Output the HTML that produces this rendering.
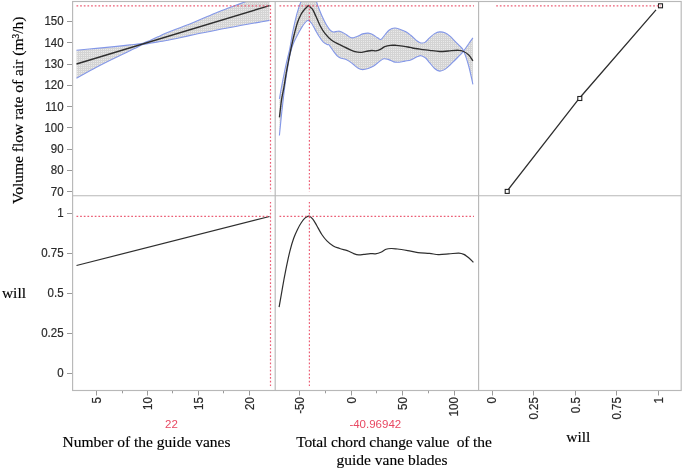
<!DOCTYPE html>
<html lang="en"><head><meta charset="utf-8"><title>Prediction profiler</title>
<style>html,body{margin:0;padding:0;background:#fff}body{width:685px;height:470px;overflow:hidden}svg{display:block}.t{font-family:"Liberation Sans",sans-serif;font-size:12.1px;fill:#2a2a2a;stroke:#2a2a2a;stroke-width:.2px}.s{font-family:"Liberation Serif",serif;font-size:15.5px;fill:#000;stroke:#000;stroke-width:.15px}.r{font-family:"Liberation Sans",sans-serif;font-size:11.5px;fill:#e84862}</style></head><body>
<svg width="685" height="470" viewBox="0 0 685 470">
<defs>
<pattern id="hatch" width="2" height="2" patternUnits="userSpaceOnUse"><rect width="2" height="2" fill="#d4d4d4"/><rect x="1" y="1" width="1" height="1" fill="#eaeaea"/></pattern>
<clipPath id="cp1"><rect x="72.6" y="1.5" width="202.6" height="194.2"/></clipPath>
<clipPath id="cp2"><rect x="275.2" y="1.5" width="203.4" height="194.2"/></clipPath>
</defs>
<rect width="685" height="470" fill="#fff"/>
<g clip-path="url(#cp1)">
<path d="M76.5 50.2C79.8 49.9 89.7 49.0 96.4 48.4C103.1 47.7 111.3 47.0 116.9 46.4C122.5 45.8 126.6 45.3 130.0 44.9C133.4 44.5 135.1 44.4 137.3 44.1C139.5 43.8 140.9 43.9 143.0 43.3C145.1 42.7 147.5 41.4 150.0 40.4C152.5 39.3 155.5 38.0 158.0 36.8C160.5 35.7 161.3 35.1 165.0 33.6C168.7 32.1 174.9 29.7 180.0 27.7C185.1 25.7 190.7 23.5 195.7 21.4C200.7 19.4 204.9 17.5 210.0 15.4C215.1 13.3 220.0 11.4 226.0 9.1C232.0 6.7 240.3 3.7 246.0 1.4C251.7 -0.9 256.1 -3.0 260.0 -4.7C263.9 -6.5 267.9 -8.5 269.5 -9.2L269.5 20.4C267.9 20.7 263.9 21.4 260.0 22.1C256.1 22.8 251.7 23.5 246.0 24.5C240.3 25.5 232.0 27.1 226.0 28.3C220.0 29.4 215.1 30.5 210.0 31.5C204.9 32.5 200.7 33.2 195.7 34.2C190.7 35.3 185.1 36.6 180.0 37.7C174.9 38.8 168.7 40.1 165.0 40.8C161.3 41.5 160.5 41.5 158.0 41.9C155.5 42.3 152.5 42.8 150.0 43.3C147.5 43.7 145.1 43.8 143.0 44.5C140.9 45.1 139.5 46.2 137.3 47.2C135.1 48.2 133.4 49.1 130.0 50.7C126.6 52.3 122.5 54.1 116.9 56.9C111.3 59.6 103.1 63.6 96.4 67.2C89.7 70.7 79.8 76.4 76.5 78.2Z" fill="url(#hatch)"/>
<path d="M76.5 50.2C79.8 49.9 89.7 49.0 96.4 48.4C103.1 47.7 111.3 47.0 116.9 46.4C122.5 45.8 126.6 45.3 130.0 44.9C133.4 44.5 135.1 44.4 137.3 44.1C139.5 43.8 140.9 43.9 143.0 43.3C145.1 42.7 147.5 41.4 150.0 40.4C152.5 39.3 155.5 38.0 158.0 36.8C160.5 35.7 161.3 35.1 165.0 33.6C168.7 32.1 174.9 29.7 180.0 27.7C185.1 25.7 190.7 23.5 195.7 21.4C200.7 19.4 204.9 17.5 210.0 15.4C215.1 13.3 220.0 11.4 226.0 9.1C232.0 6.7 240.3 3.7 246.0 1.4C251.7 -0.9 256.1 -3.0 260.0 -4.7C263.9 -6.5 267.9 -8.5 269.5 -9.2" fill="none" stroke="#8397e8" stroke-width="1.1"/>
<path d="M76.5 78.2C79.8 76.4 89.7 70.7 96.4 67.2C103.1 63.6 111.3 59.6 116.9 56.9C122.5 54.1 126.6 52.3 130.0 50.7C133.4 49.1 135.1 48.2 137.3 47.2C139.5 46.2 140.9 45.1 143.0 44.5C145.1 43.8 147.5 43.7 150.0 43.3C152.5 42.8 155.5 42.3 158.0 41.9C160.5 41.5 161.3 41.5 165.0 40.8C168.7 40.1 174.9 38.8 180.0 37.7C185.1 36.6 190.7 35.3 195.7 34.2C200.7 33.2 204.9 32.5 210.0 31.5C215.1 30.5 220.0 29.4 226.0 28.3C232.0 27.1 240.3 25.5 246.0 24.5C251.7 23.5 256.1 22.8 260.0 22.1C263.9 21.4 267.9 20.7 269.5 20.4" fill="none" stroke="#8397e8" stroke-width="1.1"/>
<path d="M76.5 64L269.5 5.6" fill="none" stroke="#2e2e2e" stroke-width="1.35"/>
</g>
<g clip-path="url(#cp2)">
<path d="M279.4 98.8C279.8 96.7 280.6 91.5 281.7 86.0C282.8 80.5 284.7 70.6 285.8 65.5C286.9 60.4 287.5 58.4 288.2 55.5C288.9 52.6 289.2 51.6 289.9 48.0C290.6 44.4 291.5 38.5 292.4 33.7C293.3 28.9 294.5 23.6 295.5 19.4C296.5 15.1 297.6 11.3 298.6 8.2C299.6 5.0 300.5 2.7 301.6 0.5C302.7 -1.7 303.9 -3.8 305.0 -5.0C306.1 -6.2 307.3 -7.0 308.5 -7.0C309.7 -7.0 310.8 -6.2 312.0 -5.0C313.2 -3.8 314.9 -1.3 315.9 0.5C316.9 2.3 317.0 3.5 318.0 6.1C319.0 8.7 320.7 13.2 322.1 16.3C323.5 19.4 324.9 22.3 326.2 24.5C327.5 26.7 328.5 28.4 329.7 29.6C330.9 30.9 332.0 31.7 333.3 32.0C334.6 32.3 336.2 31.4 337.4 31.3C338.6 31.2 339.0 30.9 340.4 31.4C341.8 31.9 344.1 33.3 346.0 34.4C347.9 35.5 349.6 37.5 351.5 37.8C353.4 38.1 355.2 37.0 357.1 36.4C359.0 35.8 360.8 34.4 362.6 33.9C364.5 33.4 366.5 33.0 368.2 33.1C369.9 33.2 371.0 33.6 372.6 34.4C374.2 35.2 376.2 37.0 377.6 37.8C379.0 38.6 379.7 39.9 380.9 39.4C382.1 38.9 383.4 36.6 384.8 35.0C386.2 33.4 387.6 31.2 389.3 30.0C391.0 28.8 393.0 28.1 394.8 28.0C396.6 27.9 398.5 28.8 400.4 29.4C402.2 30.0 404.2 30.7 405.9 31.7C407.6 32.7 408.9 33.7 410.8 35.3C412.8 36.9 415.9 40.0 417.6 41.3C419.3 42.6 419.7 42.9 421.0 43.0C422.3 43.1 423.9 43.0 425.3 42.1C426.7 41.2 427.9 39.3 429.5 37.9C431.1 36.5 432.9 34.6 434.6 33.6C436.3 32.6 438.0 32.0 439.7 31.9C441.4 31.8 443.2 32.1 444.9 32.8C446.6 33.5 448.3 34.8 450.0 36.2C451.7 37.6 453.4 39.6 455.1 41.3C456.8 43.0 458.8 44.8 460.2 46.4C461.6 48.0 462.2 47.6 463.6 50.9C465.0 54.2 467.1 60.4 468.7 66.0C470.2 71.6 472.2 81.2 472.9 84.3L472.9 37.9C472.2 38.9 470.2 41.6 468.7 43.8C467.1 46.0 465.0 49.2 463.6 51.1C462.2 53.0 461.6 53.4 460.2 54.9C458.8 56.4 456.8 58.3 455.1 60.0C453.4 61.7 451.7 63.5 450.0 65.1C448.3 66.7 446.6 68.4 444.9 69.4C443.2 70.4 441.4 71.2 439.7 71.1C438.0 70.9 436.3 69.9 434.6 68.5C432.9 67.1 431.1 64.4 429.5 62.6C427.9 60.8 426.7 58.9 425.3 57.8C423.9 56.6 422.3 55.9 421.0 55.7C419.7 55.5 419.3 55.9 417.6 56.6C415.9 57.3 412.9 59.2 410.8 60.0C408.7 60.8 406.7 60.7 404.8 61.1C402.9 61.5 401.1 62.1 399.2 62.2C397.3 62.3 395.5 62.4 393.7 61.9C391.9 61.4 389.9 59.9 388.2 59.4C386.5 58.9 385.2 58.4 383.7 58.8C382.2 59.2 381.0 60.4 379.3 61.6C377.6 62.8 375.6 64.8 373.7 66.0C371.8 67.2 370.0 67.9 368.2 68.5C366.4 69.1 364.3 69.6 362.6 69.6C360.9 69.6 359.9 69.3 358.2 68.3C356.5 67.3 354.5 65.2 352.6 63.8C350.8 62.4 349.0 60.8 347.1 59.9C345.2 59.0 342.9 58.8 341.5 58.3C340.1 57.8 339.6 57.9 338.4 56.9C337.2 55.9 335.8 54.3 334.3 52.3C332.8 50.3 330.4 46.4 329.2 45.1C328.0 43.8 328.2 45.0 327.2 44.5C326.2 44.0 324.5 43.3 323.1 41.9C321.7 40.5 320.4 38.4 319.0 36.3C317.6 34.2 316.2 31.3 314.9 29.1C313.6 26.9 312.4 24.4 311.3 23.0C310.2 21.6 309.2 20.6 308.3 20.4C307.4 20.2 306.8 20.8 305.7 22.0C304.6 23.2 303.0 25.4 301.6 27.6C300.2 29.8 298.8 32.6 297.5 35.0C296.2 37.4 295.0 39.8 294.0 42.0C293.0 44.2 292.4 45.9 291.6 48.5C290.8 51.1 290.2 53.4 289.4 57.5C288.6 61.6 287.7 67.4 286.8 73.0C285.9 78.6 285.0 84.5 284.2 91.0C283.4 97.5 282.6 104.6 281.8 112.0C281.0 119.4 279.8 131.6 279.4 135.5Z" fill="url(#hatch)"/>
<path d="M279.4 98.8C279.8 96.7 280.6 91.5 281.7 86.0C282.8 80.5 284.7 70.6 285.8 65.5C286.9 60.4 287.5 58.4 288.2 55.5C288.9 52.6 289.2 51.6 289.9 48.0C290.6 44.4 291.5 38.5 292.4 33.7C293.3 28.9 294.5 23.6 295.5 19.4C296.5 15.1 297.6 11.3 298.6 8.2C299.6 5.0 300.5 2.7 301.6 0.5C302.7 -1.7 303.9 -3.8 305.0 -5.0C306.1 -6.2 307.3 -7.0 308.5 -7.0C309.7 -7.0 310.8 -6.2 312.0 -5.0C313.2 -3.8 314.9 -1.3 315.9 0.5C316.9 2.3 317.0 3.5 318.0 6.1C319.0 8.7 320.7 13.2 322.1 16.3C323.5 19.4 324.9 22.3 326.2 24.5C327.5 26.7 328.5 28.4 329.7 29.6C330.9 30.9 332.0 31.7 333.3 32.0C334.6 32.3 336.2 31.4 337.4 31.3C338.6 31.2 339.0 30.9 340.4 31.4C341.8 31.9 344.1 33.3 346.0 34.4C347.9 35.5 349.6 37.5 351.5 37.8C353.4 38.1 355.2 37.0 357.1 36.4C359.0 35.8 360.8 34.4 362.6 33.9C364.5 33.4 366.5 33.0 368.2 33.1C369.9 33.2 371.0 33.6 372.6 34.4C374.2 35.2 376.2 37.0 377.6 37.8C379.0 38.6 379.7 39.9 380.9 39.4C382.1 38.9 383.4 36.6 384.8 35.0C386.2 33.4 387.6 31.2 389.3 30.0C391.0 28.8 393.0 28.1 394.8 28.0C396.6 27.9 398.5 28.8 400.4 29.4C402.2 30.0 404.2 30.7 405.9 31.7C407.6 32.7 408.9 33.7 410.8 35.3C412.8 36.9 415.9 40.0 417.6 41.3C419.3 42.6 419.7 42.9 421.0 43.0C422.3 43.1 423.9 43.0 425.3 42.1C426.7 41.2 427.9 39.3 429.5 37.9C431.1 36.5 432.9 34.6 434.6 33.6C436.3 32.6 438.0 32.0 439.7 31.9C441.4 31.8 443.2 32.1 444.9 32.8C446.6 33.5 448.3 34.8 450.0 36.2C451.7 37.6 453.4 39.6 455.1 41.3C456.8 43.0 458.8 44.8 460.2 46.4C461.6 48.0 462.2 47.6 463.6 50.9C465.0 54.2 467.1 60.4 468.7 66.0C470.2 71.6 472.2 81.2 472.9 84.3" fill="none" stroke="#8397e8" stroke-width="1.1"/>
<path d="M279.4 135.5C279.8 131.6 281.0 119.4 281.8 112.0C282.6 104.6 283.4 97.5 284.2 91.0C285.0 84.5 285.9 78.6 286.8 73.0C287.7 67.4 288.6 61.6 289.4 57.5C290.2 53.4 290.8 51.1 291.6 48.5C292.4 45.9 293.0 44.2 294.0 42.0C295.0 39.8 296.2 37.4 297.5 35.0C298.8 32.6 300.2 29.8 301.6 27.6C303.0 25.4 304.6 23.2 305.7 22.0C306.8 20.8 307.4 20.2 308.3 20.4C309.2 20.6 310.2 21.6 311.3 23.0C312.4 24.4 313.6 26.9 314.9 29.1C316.2 31.3 317.6 34.2 319.0 36.3C320.4 38.4 321.7 40.5 323.1 41.9C324.5 43.3 326.2 44.0 327.2 44.5C328.2 45.0 328.0 43.8 329.2 45.1C330.4 46.4 332.8 50.3 334.3 52.3C335.8 54.3 337.2 55.9 338.4 56.9C339.6 57.9 340.1 57.8 341.5 58.3C342.9 58.8 345.2 59.0 347.1 59.9C349.0 60.8 350.8 62.4 352.6 63.8C354.5 65.2 356.5 67.3 358.2 68.3C359.9 69.3 360.9 69.6 362.6 69.6C364.3 69.6 366.4 69.1 368.2 68.5C370.0 67.9 371.8 67.2 373.7 66.0C375.6 64.8 377.6 62.8 379.3 61.6C381.0 60.4 382.2 59.2 383.7 58.8C385.2 58.4 386.5 58.9 388.2 59.4C389.9 59.9 391.9 61.4 393.7 61.9C395.5 62.4 397.3 62.3 399.2 62.2C401.1 62.1 402.9 61.5 404.8 61.1C406.7 60.7 408.7 60.8 410.8 60.0C412.9 59.2 415.9 57.3 417.6 56.6C419.3 55.9 419.7 55.5 421.0 55.7C422.3 55.9 423.9 56.6 425.3 57.8C426.7 58.9 427.9 60.8 429.5 62.6C431.1 64.4 432.9 67.1 434.6 68.5C436.3 69.9 438.0 70.9 439.7 71.1C441.4 71.2 443.2 70.4 444.9 69.4C446.6 68.4 448.3 66.7 450.0 65.1C451.7 63.5 453.4 61.7 455.1 60.0C456.8 58.3 458.8 56.4 460.2 54.9C461.6 53.4 462.2 53.0 463.6 51.1C465.0 49.2 467.1 46.0 468.7 43.8C470.2 41.6 472.2 38.9 472.9 37.9" fill="none" stroke="#8397e8" stroke-width="1.1"/>
<path d="M279.4 117.4C279.8 114.5 280.8 104.9 281.5 100.0C282.2 95.1 283.0 92.5 283.8 88.0C284.6 83.5 285.4 78.0 286.3 72.7C287.2 67.4 288.3 61.8 289.4 56.3C290.5 50.8 292.0 43.9 292.9 40.0C293.8 36.1 293.8 35.9 294.6 33.0C295.4 30.1 296.4 25.6 297.5 22.5C298.6 19.4 300.0 16.4 301.1 14.3C302.2 12.2 303.3 10.8 304.2 9.7C305.1 8.5 305.8 8.0 306.4 7.4C307.0 6.8 307.6 6.2 307.9 5.9C308.2 5.6 308.2 5.5 308.4 5.5C308.6 5.5 308.5 5.6 308.9 5.9C309.3 6.2 309.9 6.8 310.6 7.5C311.3 8.2 312.0 8.4 312.9 9.9C313.8 11.4 314.7 13.7 315.9 16.3C317.1 18.9 318.5 22.6 320.0 25.5C321.5 28.4 323.2 31.3 325.1 33.7C327.0 36.1 329.2 38.4 331.3 40.0C333.4 41.6 335.5 42.6 337.4 43.6C339.3 44.6 340.7 45.1 342.7 46.1C344.7 47.1 347.3 48.5 349.3 49.4C351.3 50.3 353.0 51.1 354.9 51.6C356.8 52.1 358.5 52.4 360.4 52.4C362.2 52.4 364.1 51.7 366.0 51.4C367.9 51.1 369.9 50.6 371.5 50.5C373.1 50.4 374.4 51.0 375.9 50.8C377.4 50.6 378.9 50.1 380.4 49.4C381.9 48.7 383.1 47.3 384.8 46.6C386.5 45.9 388.5 45.5 390.4 45.3C392.2 45.1 393.9 45.2 395.9 45.3C397.9 45.4 400.6 45.8 402.6 46.1C404.6 46.4 406.5 46.7 408.1 47.0C409.8 47.3 410.4 47.6 412.5 48.0C414.6 48.4 418.2 48.9 421.0 49.3C423.8 49.7 426.4 49.9 429.5 50.3C432.6 50.7 436.6 51.4 439.7 51.5C442.8 51.6 445.2 51.2 448.3 51.0C451.4 50.8 455.9 50.2 458.5 50.3C461.1 50.4 461.9 50.7 463.6 51.5C465.3 52.3 467.1 53.3 468.7 54.9C470.2 56.5 472.2 59.9 472.9 60.9" fill="none" stroke="#2e2e2e" stroke-width="1.35" stroke-linejoin="round"/>
</g>
<path d="M508 189.8L579.4 98.2L656 9.9" fill="none" stroke="#2e2e2e" stroke-width="1.3"/>
<rect x="505.2" y="189.4" width="4" height="4" fill="#fff" stroke="#222" stroke-width="1.1"/>
<rect x="577.8" y="96.5" width="4" height="4" fill="#fff" stroke="#222" stroke-width="1.1"/>
<rect x="658.5" y="3.8" width="4" height="4" fill="none" stroke="#222" stroke-width="1.1"/>
<path d="M76.5 265.5L269.5 216.5" fill="none" stroke="#2e2e2e" stroke-width="1.2"/>
<path d="M279.1 307.2C279.6 304.2 281.1 295.8 282.2 289.4C283.3 283.0 284.7 275.3 286.0 268.9C287.3 262.5 288.6 256.2 289.9 251.1C291.2 246.0 292.4 241.9 293.7 238.3C295.0 234.7 296.2 232.0 297.5 229.4C298.8 226.8 300.1 224.4 301.4 222.5C302.7 220.6 303.9 219.0 305.2 217.9C306.5 216.8 307.7 215.9 309.0 216.1C310.3 216.3 311.5 217.5 312.8 219.1C314.1 220.7 315.2 222.9 316.7 225.5C318.2 228.1 320.1 231.9 321.8 234.5C323.5 237.1 325.0 238.9 326.9 240.8C328.8 242.7 331.2 244.7 333.3 246.0C335.4 247.3 337.4 247.7 339.7 248.5C342.0 249.3 345.0 249.8 347.3 250.6C349.6 251.4 351.8 252.9 353.7 253.6C355.6 254.3 357.1 254.8 358.8 254.9C360.5 255.0 362.0 254.6 363.9 254.4C365.8 254.2 368.4 253.7 370.3 253.6C372.2 253.5 373.6 254.0 375.4 253.8C377.2 253.6 379.1 253.1 380.9 252.3C382.7 251.6 384.3 249.9 386.0 249.3C387.7 248.7 389.2 248.6 391.1 248.5C393.0 248.4 394.7 248.7 397.5 249.0C400.3 249.3 404.3 250.0 407.7 250.6C411.1 251.2 414.4 252.1 418.0 252.6C421.6 253.1 426.0 253.1 429.4 253.4C432.8 253.7 435.2 254.5 438.4 254.6C441.6 254.7 445.2 254.2 448.6 253.9C452.0 253.7 456.2 253.0 458.8 253.1C461.4 253.2 462.2 253.6 463.9 254.4C465.6 255.2 467.4 256.7 469.0 258.0C470.6 259.3 472.7 261.6 473.4 262.3" fill="none" stroke="#2e2e2e" stroke-width="1.2"/>
<path d="M76.5 5.8L270.5 5.8" stroke="#e84862" stroke-width="1.2" stroke-dasharray="1.7 1.95" stroke-opacity=".88" fill="none"/>
<path d="M279.5 5.8L474 5.8" stroke="#e84862" stroke-width="1.2" stroke-dasharray="1.7 1.95" stroke-opacity=".88" fill="none"/>
<path d="M496.2 5.8L661 5.8" stroke="#e84862" stroke-width="1.2" stroke-dasharray="1.7 1.95" stroke-opacity=".88" fill="none"/>
<path d="M76.5 216.3L270.5 216.3" stroke="#e84862" stroke-width="1.2" stroke-dasharray="1.7 1.95" stroke-opacity=".88" fill="none"/>
<path d="M279.5 216.3L474 216.3" stroke="#e84862" stroke-width="1.2" stroke-dasharray="1.7 1.95" stroke-opacity=".88" fill="none"/>
<path d="M270.5 5L270.5 191.5" stroke="#e84862" stroke-width="1.2" stroke-dasharray="1.7 1.95" stroke-opacity=".88" fill="none"/>
<path d="M270.5 201.9L270.5 386.3" stroke="#e84862" stroke-width="1.2" stroke-dasharray="1.7 1.95" stroke-opacity=".88" fill="none"/>
<path d="M309.4 5L309.4 191.5" stroke="#e84862" stroke-width="1.2" stroke-dasharray="1.7 1.95" stroke-opacity=".88" fill="none"/>
<path d="M309.4 201.9L309.4 386.3" stroke="#e84862" stroke-width="1.2" stroke-dasharray="1.7 1.95" stroke-opacity=".88" fill="none"/>
<g stroke="#b8b8b8" stroke-width="1.15" fill="none">
<rect x="72.6" y="1.5" width="608.6" height="389"/>
<path d="M275.2 1.5V390.5 M478.6 1.5V390.5 M72.6 195.7H681.2"/>
</g>
<g stroke="#9a9a9a" stroke-width="1" fill="none">
<path d="M67 191.5H72M67 170.5H72M67 149.5H72M67 127.5H72M67 106.5H72M67 85.5H72M67 64.5H72M67 42.5H72M67 21.5H72M67 373.5H72M67 333.5H72M67 293.5H72M67 253.5H72M67 213.5H72M96.5 391V395.5M147.5 391V395.5M198.5 391V395.5M249.5 391V395.5M122.5 391V393.3M172.5 391V393.3M223.5 391V393.3M299.5 391V395.5M351.5 391V395.5M402.5 391V395.5M454.5 391V395.5M325.5 391V393.3M376.5 391V393.3M428.5 391V393.3M492.5 391V395.5M533.5 391V395.5M575.5 391V395.5M616.5 391V395.5M658.5 391V395.5"/>
</g>
<g class="t" text-anchor="end">
<text transform="translate(63.6 195.7) scale(.95 1)">70</text>
<text transform="translate(63.6 174.4) scale(.95 1)">80</text>
<text transform="translate(63.6 153.1) scale(.95 1)">90</text>
<text transform="translate(63.6 131.8) scale(.95 1)">100</text>
<text transform="translate(63.6 110.5) scale(.95 1)">110</text>
<text transform="translate(63.6 89.2) scale(.95 1)">120</text>
<text transform="translate(63.6 67.9) scale(.95 1)">130</text>
<text transform="translate(63.6 46.6) scale(.95 1)">140</text>
<text transform="translate(63.6 25.3) scale(.95 1)">150</text>
<text transform="translate(63.6 377.2) scale(.95 1)">0</text>
<text transform="translate(63.6 337.2) scale(.95 1)">0.25</text>
<text transform="translate(63.6 297.2) scale(.95 1)">0.5</text>
<text transform="translate(63.6 257.2) scale(.95 1)">0.75</text>
<text transform="translate(63.6 217.2) scale(.95 1)">1</text>
<text transform="translate(100.8 397.2) rotate(-90) scale(.95 1)">5</text>
<text transform="translate(151.7 397.2) rotate(-90) scale(.95 1)">10</text>
<text transform="translate(202.6 397.2) rotate(-90) scale(.95 1)">15</text>
<text transform="translate(253.5 397.2) rotate(-90) scale(.95 1)">20</text>
<text transform="translate(304.1 397.2) rotate(-90) scale(.95 1)">-50</text>
<text transform="translate(355.5 397.2) rotate(-90) scale(.95 1)">0</text>
<text transform="translate(406.9 397.2) rotate(-90) scale(.95 1)">50</text>
<text transform="translate(458.3 397.2) rotate(-90) scale(.95 1)">100</text>
<text transform="translate(496.2 397.2) rotate(-90) scale(.95 1)">0</text>
<text transform="translate(537.9 397.2) rotate(-90) scale(.95 1)">0.25</text>
<text transform="translate(579.5 397.2) rotate(-90) scale(.95 1)">0.5</text>
<text transform="translate(621.2 397.2) rotate(-90) scale(.95 1)">0.75</text>
<text transform="translate(662.8 397.2) rotate(-90) scale(.95 1)">1</text>
</g>
<text class="r" text-anchor="middle" x="171.5" y="427.8">22</text>
<text class="r" text-anchor="middle" x="375.3" y="427.8">-40.96942</text>
<text class="s" text-anchor="middle" transform="translate(23 110.3) rotate(-90)">Volume flow rate of air (m³/h)</text>
<text class="s" x="1.9" y="297.6">will</text>
<text class="s" text-anchor="middle" x="146.5" y="446.6">Number of the guide vanes</text>
<text class="s" text-anchor="middle" x="394" y="446.6" xml:space="preserve" textLength="195.6" lengthAdjust="spacing">Total chord change value  of the</text>
<text class="s" text-anchor="middle" x="392" y="465">guide vane blades</text>
<text class="s" text-anchor="middle" x="578.3" y="442.2">will</text>
</svg></body></html>
